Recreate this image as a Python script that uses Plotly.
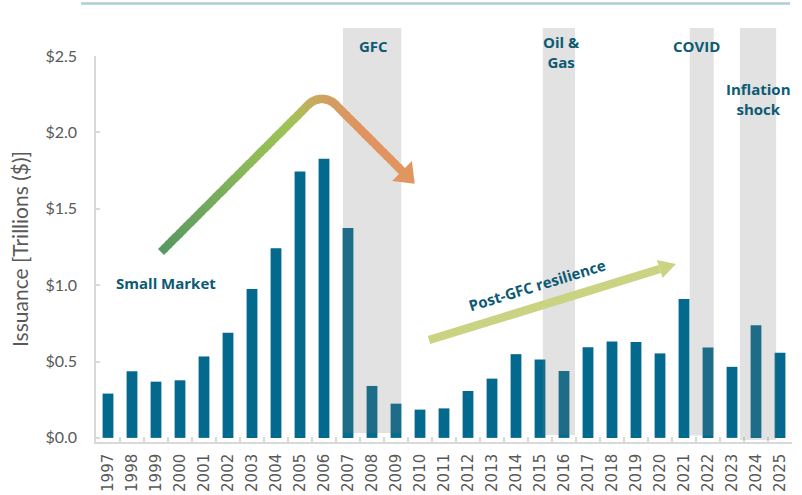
import math
import plotly.graph_objects as go

# ---------------- data ----------------
years = ["1997", "1998", "1999", "2000", "2001", "2002", "2003", "2004", "2005", "2006",
         "2007", "2008", "2009", "2010", "2011", "2012", "2013", "2014", "2015", "2016",
         "2017", "2018", "2019", "2020", "2021", "2022", "2023", "2024", "2025"]
issuance = [0.29, 0.436, 0.368, 0.377, 0.533, 0.688, 0.975, 1.242, 1.744, 1.827,
            1.374, 0.34, 0.224, 0.185, 0.193, 0.307, 0.388, 0.548, 0.513, 0.438,
            0.594, 0.631, 0.627, 0.553, 0.909, 0.592, 0.465, 0.737, 0.557]
y_ticks = [0.0, 0.5, 1.0, 1.5, 2.0, 2.5]
y_tick_labels = ["$0.0", "$0.5", "$1.0", "$1.5", "$2.0", "$2.5"]
# shaded episodes (start year, end year) in fractional year positions
episodes = [("GFC", 2006.79, 2009.22), ("Oil & Gas", 2015.12, 2016.46),
            ("COVID", 2021.24, 2022.24), ("Inflation shock", 2023.33, 2024.84)]

# ---------------- layout constants ----------------
W, H = 802, 495
ML, MR, MT, MB = 96, 10, 56, 53
PW, PH = W - ML - MR, H - MT - MB
TEXT = "#0d5a73"
GRAY = "#595959"
AXIS = "#d9d9d9"


def px(x, y):
    """pixel position -> paper coordinates"""
    return (x - ML) / PW, (H - MB - y) / PH


def hex2rgb(h):
    h = h.lstrip("#")
    return [int(h[i:i + 2], 16) for i in (0, 2, 4)]


def grad(t, stops):
    for (t0, c0), (t1, c1) in zip(stops, stops[1:]):
        if t <= t1:
            f = (t - t0) / (t1 - t0) if t1 > t0 else 0
            a, b = hex2rgb(c0), hex2rgb(c1)
            return "rgb(%d,%d,%d)" % tuple(round(a[i] + (b[i] - a[i]) * f) for i in range(3))
    return stops[-1][1]


fig = go.Figure()
fig.add_trace(go.Bar(x=years, y=issuance, marker=dict(color="#03698e", line=dict(width=0)),
                     width=0.45, showlegend=False, hoverinfo="x+y"))

shapes = []
# top rule
x0, y0 = px(81, 3.5)
x1, _ = px(790, 3.5)
shapes.append(dict(type="line", xref="paper", yref="paper", x0=x0, x1=x1, y0=y0, y1=y0,
                   line=dict(color="#abcfd6", width=2.5), layer="above"))
# shaded bands
band_bottom = [433, 435, 435.5, 440]
for (name, s, e), bb in zip(episodes, band_bottom):
    shapes.append(dict(type="rect", xref="x", yref="paper",
                       x0=s - 1997, x1=e - 1997, y0=px(0, bb)[1], y1=px(0, 28)[1],
                       fillcolor="rgba(125,125,125,0.22)", line=dict(width=0), layer="above"))

# big rise-and-fall arrow with gradient
pts = []
start = (161, 252)
t1 = (308.6, 104.5)
cx, cy, r = 322, 117.9, 19
t2 = (335.4, 104.5)
end = (402, 171)
n1 = 40
for i in range(n1 + 1):
    f = i / n1
    pts.append((start[0] + (t1[0] - start[0]) * f, start[1] + (t1[1] - start[1]) * f))
for i in range(1, 19):
    a = math.radians(135 - 90 * i / 18)
    pts.append((cx + r * math.cos(a), cy - r * math.sin(a)))
n2 = 18
for i in range(1, n2 + 1):
    f = i / n2
    pts.append((t2[0] + (end[0] - t2[0]) * f, t2[1] + (end[1] - t2[1]) * f))
lens = [0]
for a, b in zip(pts, pts[1:]):
    lens.append(lens[-1] + math.hypot(b[0] - a[0], b[1] - a[1]))
total = lens[-1]
stops = [(0, "#579761"), (0.38, "#8cb95a"), (0.55, "#a0c355"), (0.64, "#c4ad5d"),
         (0.7, "#d49d61"), (0.82, "#df935f"), (1, "#e1955f")]
for i, (a, b) in enumerate(zip(pts, pts[1:])):
    t = (lens[i] + lens[i + 1]) / 2 / total
    # extend each piece slightly so neighbours overlap (no seams)
    ddx, ddy = b[0] - a[0], b[1] - a[1]
    dl = math.hypot(ddx, ddy)
    ex, ey = ddx / dl * 0.6, ddy / dl * 0.6
    aa = (a[0] - (ex if i > 0 else 0), a[1] - (ey if i > 0 else 0))
    bb_ = (b[0] + ex, b[1] + ey)
    ax, ay = px(*aa)
    bx, by = px(*bb_)
    shapes.append(dict(type="line", xref="paper", yref="paper", x0=ax, y0=ay, x1=bx, y1=by,
                       line=dict(color=grad(t, stops), width=8.5), layer="above"))
# head
hd = (1 / math.sqrt(2), 1 / math.sqrt(2))
tip = (end[0] + 18 * hd[0], end[1] + 18 * hd[1])
c1 = (end[0] + 9.9, end[1] - 9.9)
c2 = (end[0] - 9.9, end[1] + 9.9)
path = "M %f,%f L %f,%f L %f,%f Z" % (px(*c1) + px(*tip) + px(*c2))
shapes.append(dict(type="path", xref="paper", yref="paper", path=path,
                   fillcolor="#e1955f", line=dict(width=0), layer="above"))

# post-GFC arrow
ps = (429, 340)
ptip = (676, 264)
dx, dy = ptip[0] - ps[0], ptip[1] - ps[1]
L = math.hypot(dx, dy)
ux, uy = dx / L, dy / L
base = (ptip[0] - 17 * ux, ptip[1] - 17 * uy)
ax_, ay_ = px(*ps)
bx_, by_ = px(*base)
OLIVE = "#cad381"
shapes.append(dict(type="line", xref="paper", yref="paper", x0=ax_, y0=ay_, x1=bx_, y1=by_,
                   line=dict(color=OLIVE, width=8.5), layer="above"))
pxv, pyv = -uy, ux
q1 = (base[0] + 9.5 * pxv, base[1] + 9.5 * pyv)
q2 = (base[0] - 9.5 * pxv, base[1] - 9.5 * pyv)
path = "M %f,%f L %f,%f L %f,%f Z" % (px(*q1) + px(*ptip) + px(*q2))
shapes.append(dict(type="path", xref="paper", yref="paper", path=path,
                   fillcolor=OLIVE, line=dict(width=0), layer="above"))

annots = []
BOLD = dict(family="Open Sans", size=15, color=TEXT, weight=700)
for txt, x, y in [("GFC", 373, 46.5), ("Oil &amp;<br>Gas", 561.5, 52),
                  ("COVID", 696, 46.5), ("Inflation<br>shock", 758.5, 99),
                  ("Small Market", 166, 283)]:
    ax1, ay1 = px(x, y)
    annots.append(dict(text=txt, x=ax1, y=ay1, xref="paper", yref="paper", showarrow=False,
                       xanchor="center", yanchor="middle", font=BOLD, align="center"))
ax1, ay1 = px(537, 285)
annots.append(dict(text="Post-GFC resilience", x=ax1, y=ay1, xref="paper", yref="paper",
                   showarrow=False, xanchor="center", yanchor="middle", font=BOLD,
                   textangle=-17))

fig.update_layout(
    width=W, height=H,
    margin=dict(l=ML, r=MR, t=MT, b=MB, pad=0, autoexpand=False),
    plot_bgcolor="white", paper_bgcolor="white",
    shapes=shapes, annotations=annots,
    xaxis=dict(type="category", categoryorder="array", categoryarray=years,
               range=[-0.5, len(years) - 0.5], tickangle=-90, tickson="boundaries",
               ticks="inside", ticklen=5, tickcolor=AXIS, tickwidth=1.5,
               showline=True, linecolor=AXIS, linewidth=1.5, showgrid=False,
               tickfont=dict(family="DejaVu Sans", size=15, color=GRAY),
               ticklabelstandoff=4, fixedrange=True, automargin=False),
    yaxis=dict(range=[-0.027, 2.5], tickmode="array", tickvals=y_ticks, ticktext=y_tick_labels,
               ticks="inside", ticklen=4, tickcolor=AXIS, tickwidth=1.5,
               showline=True, linecolor=AXIS, linewidth=1.5, showgrid=False, zeroline=False,
               tickfont=dict(family="Lato", size=16, color=GRAY), ticklabelstandoff=14,
               title=dict(text="Issuance [Trillions ($)]", standoff=11,
                          font=dict(family="Lato", size=21, color=GRAY)),
               fixedrange=True, automargin=False),
)

fig.write_html("out.html", config={"displayModeBar": False},
               post_script="document.body.style.margin='0';document.body.style.overflow='hidden';")
